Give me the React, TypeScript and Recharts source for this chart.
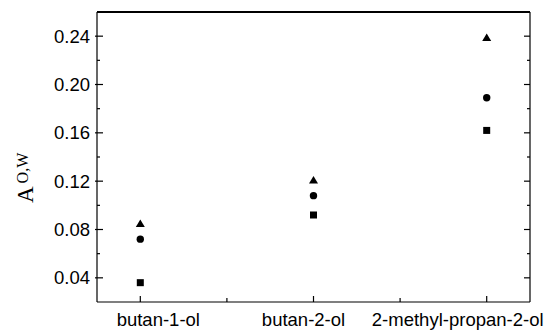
import React from "react";
import { ScatterChart, Scatter, XAxis, YAxis } from "recharts";

// categories on the x axis (placed at 1, 2, 3)
const categories = ["butan-1-ol", "butan-2-ol", "2-methyl-propan-2-ol"];
// the three marker series
const triangleVals = [0.085, 0.121, 0.239];
const circleVals = [0.072, 0.108, 0.189];
const squareVals = [0.036, 0.092, 0.162];

const yTicks = [0.04, 0.06, 0.08, 0.1, 0.12, 0.14, 0.16, 0.18, 0.2, 0.22, 0.24];
const xTicks = [1, 1.5, 2, 2.5, 3];
// the category labels are not centred on their ticks in the original
const labelNudge = [18, -10, -29];

const toPoints = (vals: number[]) => vals.map((v, i) => ({ x: i + 1, y: v }));

const FONT = "'Liberation Sans', Arial, sans-serif";
const isMajorY = (v: number) => Math.round(v * 100) % 4 === 0;

const LeftTick = (props: any) => {
  const { x, y, payload } = props;
  const major = isMajorY(payload.value);
  return (
    <g>
      <line x1={major ? x - 2 : x} x2={x + (major ? 6 : 3)} y1={y} y2={y} stroke="#000" strokeWidth={1.2} />
      {major && (
        <text x={x - 7} y={y} dy="0.35em" textAnchor="end" fontSize={18.5} fontFamily={FONT} fill="#000">
          {payload.value.toFixed(2)}
        </text>
      )}
    </g>
  );
};

const RightTick = (props: any) => {
  const { x, y, payload } = props;
  const major = isMajorY(payload.value);
  return <line x1={x} x2={x - (major ? 6 : 3)} y1={y} y2={y} stroke="#000" strokeWidth={1.2} />;
};

const BottomTick = (props: any) => {
  const { x, y, payload } = props;
  const idx = payload.value - 1;
  const major = Number.isInteger(payload.value);
  return (
    <g>
      <line x1={x} x2={x} y1={y} y2={y - (major ? 6 : 4)} stroke="#000" strokeWidth={1.2} />
      {major && (
        <text x={x + labelNudge[idx]} y={y + 24} textAnchor="middle" fontSize={18.5} fontFamily={FONT} fill="#000">
          {categories[idx]}
        </text>
      )}
    </g>
  );
};

const Triangle = ({ cx, cy }: any) => (
  <polygon points={`${cx - 4.5},${cy + 3.5} ${cx + 4.5},${cy + 3.5} ${cx},${cy - 4}`} fill="#000" />
);
const Dot = ({ cx, cy }: any) => <circle cx={cx} cy={cy} r={3.7} fill="#000" />;
const Square = ({ cx, cy }: any) => <rect x={cx - 3.5} y={cy - 3.5} width={7} height={7} fill="#000" />;

const YLabel = () => (
  <text transform="translate(33,203) rotate(-90)" fontFamily="'Liberation Serif', 'Times New Roman', serif" fill="#000">
    <tspan fontSize={23}>A</tspan>
    <tspan fontSize={16} dx={3} dy={-5}>O,W</tspan>
  </text>
);

export default function App() {
  return (
    <div style={{ position: "absolute", left: 0, top: 0, background: "#fff" }}>
      <ScatterChart width={548} height={331} margin={{ top: 0, right: 0, bottom: 0, left: 0 }}>
        <XAxis
          type="number"
          dataKey="x"
          domain={[0.75, 3.25]}
          ticks={xTicks}
          allowDataOverflow
          height={29}
          tickSize={0}
          tickMargin={0}
          tickLine={false}
          axisLine={{ stroke: "#000", strokeWidth: 1.2 }}
          tick={<BottomTick />}
          interval={0}
        />
        <XAxis
          xAxisId="top"
          orientation="top"
          type="number"
          domain={[0.75, 3.25]}
          allowDataOverflow
          height={12}
          tick={false}
          tickLine={false}
          axisLine={{ stroke: "#000", strokeWidth: 2 }}
        />
        <YAxis
          type="number"
          dataKey="y"
          domain={[0.02, 0.26]}
          ticks={yTicks}
          allowDataOverflow
          width={97}
          tickSize={0}
          tickMargin={0}
          tickLine={false}
          axisLine={{ stroke: "#000", strokeWidth: 1.2 }}
          tick={<LeftTick />}
          interval={0}
          label={<YLabel />}
        />
        <YAxis
          yAxisId="right"
          orientation="right"
          type="number"
          domain={[0.02, 0.26]}
          ticks={yTicks}
          allowDataOverflow
          width={18}
          tickSize={0}
          tickMargin={0}
          tickLine={false}
          axisLine={{ stroke: "#000", strokeWidth: 1.2 }}
          tick={<RightTick />}
          interval={0}
        />
        <Scatter data={toPoints(triangleVals)} shape={<Triangle />} isAnimationActive={false} />
        <Scatter data={toPoints(circleVals)} shape={<Dot />} isAnimationActive={false} />
        <Scatter data={toPoints(squareVals)} shape={<Square />} isAnimationActive={false} />
      </ScatterChart>
    </div>
  );
}
